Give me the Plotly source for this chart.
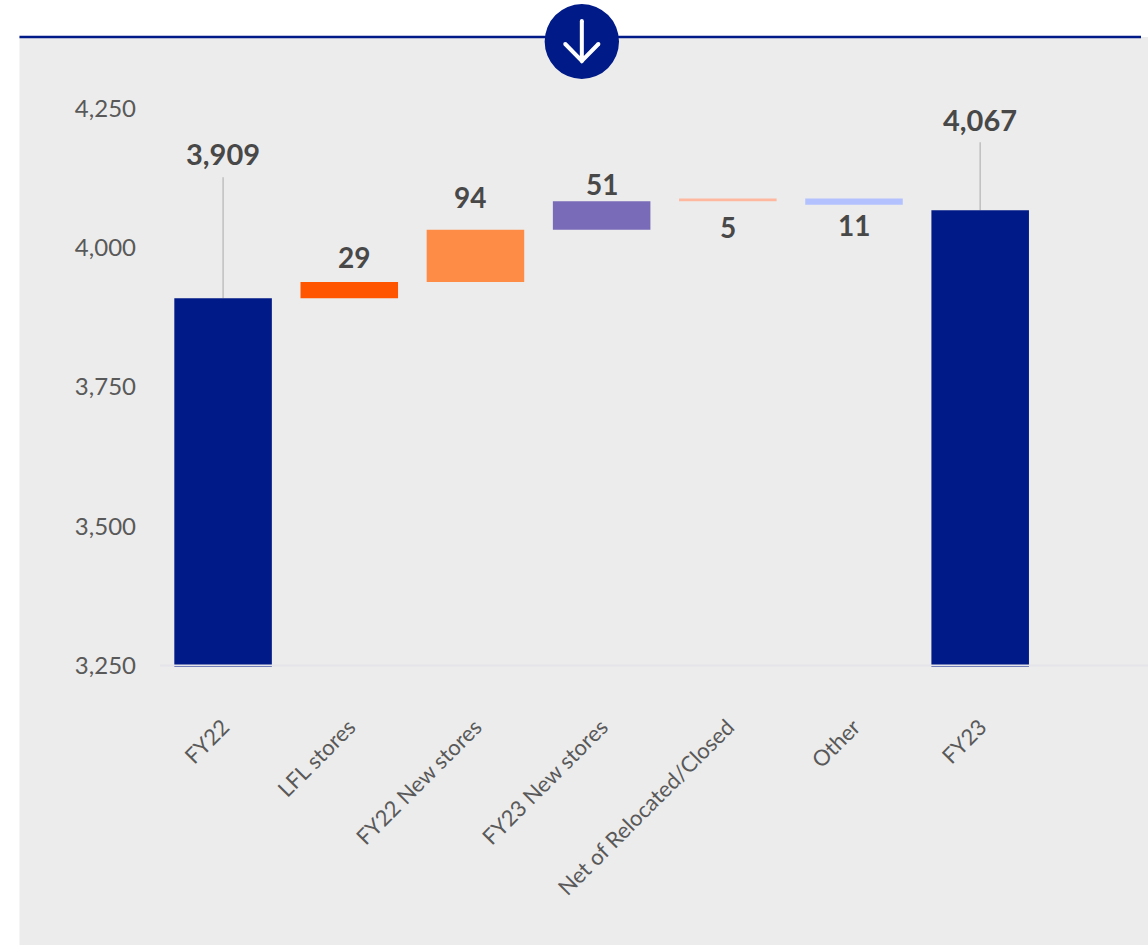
import plotly.graph_objects as go

# Revenue bridge, FY22 to FY23
categories = ["FY22", "LFL stores", "FY22 New stores", "FY23 New stores",
              "Net of Relocated/Closed", "Other", "FY23"]
bar_bottoms = [3247, 3909, 3938, 4032, 4083, 4077, 3247]
bar_tops = [3909, 3938, 4032, 4083, 4088, 4088, 4067]
value_labels = ["3,909", "29", "94", "51", "5", "11", "4,067"]
bar_colors = ["#001A87", "#FF5500", "#FF8C46", "#7A6BB8", "#FFB8A0", "#B3C2FF", "#001A87"]
y_ticks = [3250, 3500, 3750, 4000, 4250]

# Label placement relative to each bar, in pixels
label_anchor_top = [True, True, True, True, False, False, True]
label_shift_y = [145, 25, 33, 17, -26, -20, 91]
label_shift_x = [0, 5, -5, 0, 0, 0, 0]
leader_heights = {"FY22": 121, "FY23": 68}

W, H = 1148, 945
LEFT, RIGHT_EDGE, TOP, BOTTOM = 159.6, 1148, 86.0, 670.9


def px(x):
    return (x - LEFT) / (RIGHT_EDGE - LEFT)


def py(y):
    return (BOTTOM - y) / (BOTTOM - TOP)


NAVY = "#001A87"
fig = go.Figure()
fig.add_bar(
    x=categories,
    y=[t - b for t, b in zip(bar_tops, bar_bottoms)],
    base=bar_bottoms,
    marker=dict(color=bar_colors, line_width=0),
    width=0.773,
    hoverinfo="skip",
)

shapes = [
    # Grey panel and rule across its top edge
    dict(type="rect", xref="paper", yref="paper", x0=px(19), x1=px(1148), y0=py(945), y1=py(37),
         fillcolor="#ECECEC", line_width=0, layer="below"),
    dict(type="rect", xref="paper", yref="paper", x0=px(19), x1=px(1141), y0=py(38.3), y1=py(35.8),
         fillcolor=NAVY, line_width=0, layer="above"),
    # Round badge with a down arrow
    dict(type="circle", xref="paper", yref="paper", x0=px(544.4), x1=px(618.8), y0=py(78.9), y1=py(4.1),
         fillcolor=NAVY, line_width=0, layer="above"),
    dict(type="path", xref="paper", yref="paper", layer="above",
         path=f"M {px(581.6)} {py(21)} L {px(581.6)} {py(61)} "
              f"M {px(565)} {py(44)} L {px(581.6)} {py(61)} L {px(598.2)} {py(44)}",
         line=dict(color="white", width=4)),
    # Baseline drawn over the foot of the total bars
    dict(type="line", xref="paper", yref="y", x0=0, x1=1, y0=3250, y1=3250,
         line=dict(color="#E4E4EA", width=2), layer="above"),
]
# Rounded ends of the arrow strokes
for cx, cy in [(581.6, 21), (581.6, 61), (565, 44), (598.2, 44)]:
    shapes.append(dict(type="circle", xref="paper", yref="paper", layer="above",
                       x0=px(cx - 2), x1=px(cx + 2), y0=py(cy + 2), y1=py(cy - 2),
                       fillcolor="white", line_width=0))
for cat, height in leader_heights.items():
    i = categories.index(cat)
    shapes.append(dict(type="line", xref="x", yref="y", ysizemode="pixel", yanchor=bar_tops[i],
                       x0=cat, x1=cat, y0=0, y1=height,
                       line=dict(color="#BFBFBF", width=1.5), layer="below"))

annotations = []
for i, cat in enumerate(categories):
    big = cat in leader_heights
    annotations.append(dict(
        x=cat, xref="x", yref="y",
        y=bar_tops[i] if label_anchor_top[i] else bar_bottoms[i],
        yshift=label_shift_y[i], xshift=label_shift_x[i],
        text=f"<b>{value_labels[i]}</b>", showarrow=False,
        yanchor="middle", xanchor="center",
        font=dict(family="Lato", size=29 if big else 28, color="#484848"),
    ))

fig.update_layout(
    width=W, height=H,
    margin=dict(l=LEFT, r=W - RIGHT_EDGE, t=TOP, b=H - BOTTOM, pad=0),
    paper_bgcolor="white",
    plot_bgcolor="rgba(0,0,0,0)",
    showlegend=False,
    shapes=shapes,
    annotations=annotations,
    xaxis=dict(type="category", categoryorder="array", categoryarray=categories,
               range=[-0.5, 7.33], tickangle=-45, showgrid=False, showline=False, zeroline=False,
               ticks="", ticklen=0, automargin=False, ticklabelstandoff=38,
               tickfont=dict(family="Lato", size=22, color="#595959")),
    yaxis=dict(range=[3240, 4290], tickvals=y_ticks, tickformat=",", showgrid=False, zeroline=False,
               showline=False, ticks="", automargin=False, ticklabelstandoff=23,
               tickfont=dict(family="Lato", size=24, color="#595959")),
)

fig.write_html("out.html", config={"displayModeBar": False})
